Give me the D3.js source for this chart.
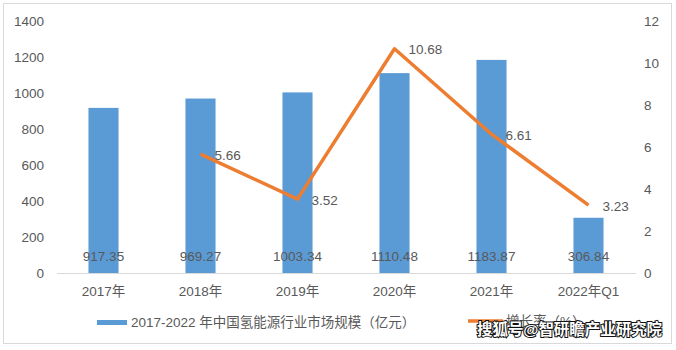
<!DOCTYPE html>
<html><head><meta charset="utf-8">
<script src="https://cdn.jsdelivr.net/npm/d3@7"></script>
<style>body{margin:0;background:#fff}svg{display:block}text{font-family:"Liberation Sans","Noto Sans CJK SC",sans-serif}</style>
</head><body><svg id="c" width="676" height="350"></svg>
<script>
const categories = ["2017年","2018年","2019年","2020年","2021年","2022年Q1"];
const marketSize = [917.35, 969.27, 1003.34, 1110.48, 1183.87, 306.84];
const marketLabels = ["917.35","969.27","1003.34","1110.48","1183.87","306.84"];
const growthRate = [null, 5.66, 3.52, 10.68, 6.61, 3.23];
const leftTicks = [0,200,400,600,800,1000,1200,1400];
const rightTicks = [0,2,4,6,8,10,12];
const barName = "2017-2022 年中国氢能源行业市场规模（亿元）";
const lineName = "增长率（%）";
const watermark = "搜狐号@智研瞻产业研究院";

const svg = d3.select("#c");
const gray = "#595959";
svg.append("rect").attr("x",3.5).attr("y",3.5).attr("width",668).attr("height",340)
  .attr("fill","#fff").attr("stroke","#d9d9d9");

const x = d3.scaleBand().domain(categories).range([55,637]).paddingInner(0.69).paddingOuter(0.345);
const yL = d3.scaleLinear().domain([0,1400]).range([273,21]);
const yR = d3.scaleLinear().domain([0,12]).range([273,21]);

svg.append("g").selectAll("text").data(leftTicks).join("text")
  .attr("x",44).attr("y",d=>yL(d)).attr("dy","0.35em").attr("text-anchor","end")
  .attr("font-size",13.5).attr("fill",gray).text(d=>d);
svg.append("g").selectAll("text").data(rightTicks).join("text")
  .attr("x",644).attr("y",d=>yR(d)).attr("dy","0.35em").attr("text-anchor","start")
  .attr("font-size",13.5).attr("fill",gray).text(d=>d);

svg.append("g").selectAll("rect").data(marketSize).join("rect")
  .attr("x",(d,i)=>x(categories[i])).attr("width",x.bandwidth())
  .attr("y",d=>yL(d)).attr("height",d=>yL(0)-yL(d)).attr("fill","#5b9bd5");

svg.append("line").attr("x1",57).attr("x2",636).attr("y1",yL(0)+0.5).attr("y2",yL(0)+0.5)
  .attr("stroke","#d9d9d9").attr("stroke-width",1);

svg.append("g").selectAll("text").data(categories).join("text")
  .attr("x",d=>x(d)+x.bandwidth()/2).attr("y",291).attr("dy","0.35em")
  .attr("text-anchor","middle").attr("font-size",13.5).attr("fill",gray).text(d=>d);

svg.append("g").selectAll("text").data(marketLabels).join("text")
  .attr("x",(d,i)=>x(categories[i])+x.bandwidth()/2).attr("y",256).attr("dy","0.35em")
  .attr("text-anchor","middle").attr("font-size",13.5).attr("fill",gray).text(d=>d);

const pts = growthRate.map((v,i)=>({v,c:categories[i]})).filter(d=>d.v!==null);
const line = d3.line().x(d=>x(d.c)+x.bandwidth()/2).y(d=>yR(d.v));
svg.append("path").datum(pts).attr("d",line).attr("fill","none")
  .attr("stroke","#ed7d31").attr("stroke-width",3.5).attr("stroke-linejoin","round");

svg.append("g").selectAll("text").data(pts).join("text")
  .attr("x",d=>x(d.c)+x.bandwidth()/2+14).attr("y",d=>yR(d.v)+1).attr("dy","0.35em")
  .attr("text-anchor","start").attr("font-size",13.5).attr("fill",gray).text(d=>d.v.toFixed(2));

svg.append("rect").attr("x",97).attr("y",320).attr("width",30).attr("height",5).attr("fill","#5b9bd5");
svg.append("text").attr("x",131).attr("y",322.5).attr("dy","0.35em").attr("font-size",13.5)
  .attr("fill",gray).text(barName);
svg.append("line").attr("x1",468).attr("x2",503).attr("y1",321).attr("y2",321)
  .attr("stroke","#ed7d31").attr("stroke-width",3.5);
svg.append("text").attr("x",506).attr("y",321).attr("dy","0.35em").attr("font-size",13.5)
  .attr("fill",gray).text(lineName);

svg.append("text").attr("x",477).attr("y",330).attr("dy","0.35em").attr("font-size",15.5)
  .attr("font-weight","bold").attr("fill","#fff").attr("stroke","#111").attr("stroke-width",2)
  .attr("paint-order","stroke").attr("font-family","Noto Sans CJK SC")
  .attr("textLength",185).attr("lengthAdjust","spacingAndGlyphs").text(watermark);
</script></body></html>
